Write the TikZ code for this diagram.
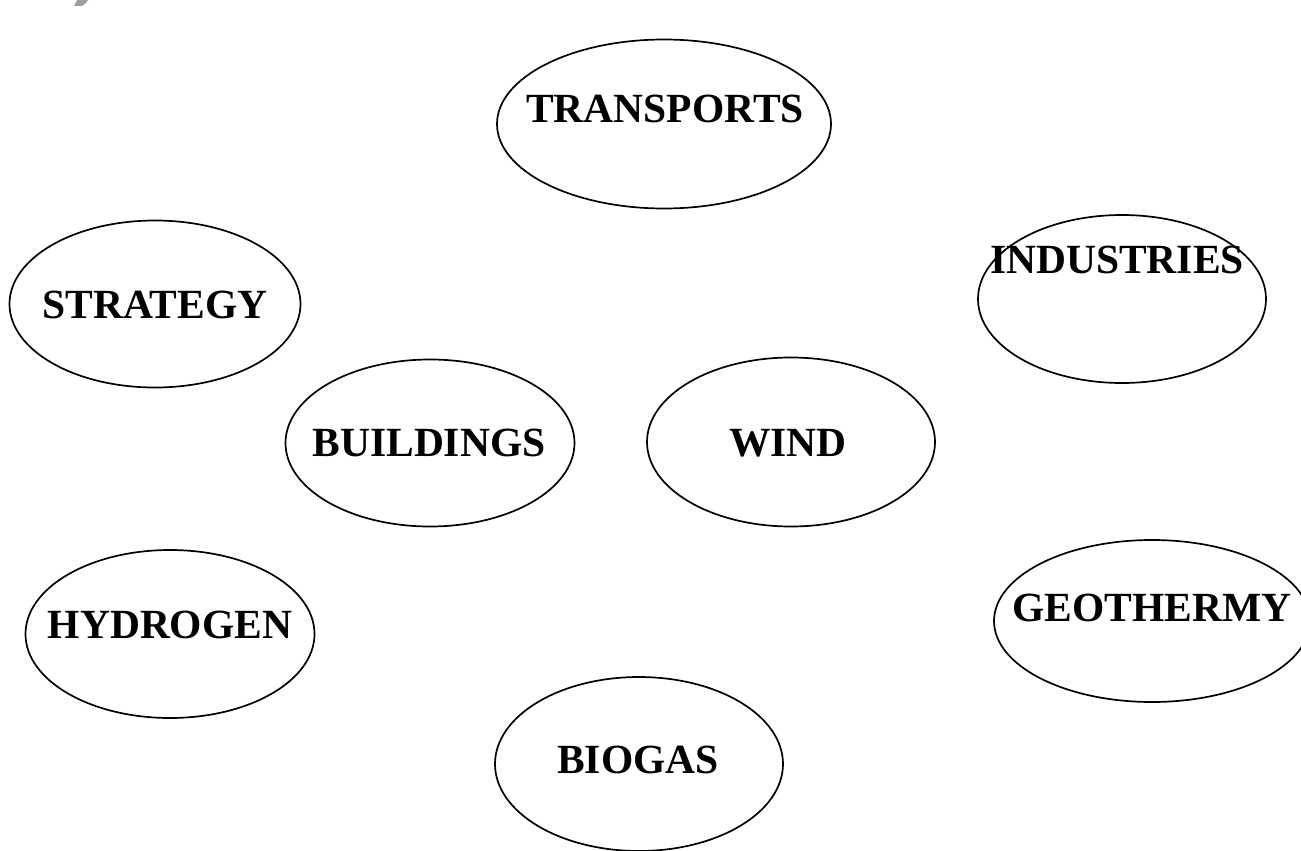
\documentclass[tikz,border=0pt]{standalone}
\usepackage{fontspec}
\setmainfont{Liberation Serif}
\usetikzlibrary{shapes.geometric}
\tikzset{
  bubble/.style={ellipse,draw,line width=1.7pt,inner sep=0pt},
  caption/.style={font=\fontsize{41.5}{41.5}\selectfont\bfseries,inner sep=0pt}
}
\begin{document}
\begin{tikzpicture}[x=1pt,y=-1pt]
  \useasboundingbox (0,0) rectangle (1301,851);
  \clip (0,0) rectangle (1301,851);
  % stray mark at the top
  \fill[gray!75] (74,6) -- (77,0) -- (88,0) -- (86,3) -- (82,6) -- cycle;
  % the bubbles
  \node[bubble,minimum width=334pt,minimum height=169pt] (transports) at (664,124) {};
  \node[bubble,minimum width=288pt,minimum height=168pt] (industries) at (1122,299) {};
  \node[bubble,minimum width=291pt,minimum height=167pt] (strategy) at (155,304) {};
  \node[bubble,minimum width=289pt,minimum height=167pt] (buildings) at (430,443) {};
  \node[bubble,minimum width=288pt,minimum height=169pt] (wind) at (791,442) {};
  \node[bubble,minimum width=289pt,minimum height=168pt] (hydrogen) at (170,634) {};
  \node[bubble,minimum width=316pt,minimum height=162pt] (geothermy) at (1152,621) {};
  \node[bubble,minimum width=288pt,minimum height=174pt] (biogas) at (639,764) {};
  % the labels
  \node[caption] (transportsText) at (665,109) {TRANSPORTS};
  \node[caption] (industriesText) at (1117,260) {INDUSTRIES};
  \node[caption] (strategyText) at (155,305) {STRATEGY};
  \node[caption] (buildingsText) at (429,443) {BUILDINGS};
  \node[caption] (windText) at (788,443) {WIND};
  \node[caption] (hydrogenText) at (170,625) {HYDROGEN};
  \node[caption] (geothermyText) at (1152,608) {GEOTHERMY};
  \node[caption] (biogasText) at (638,760) {BIOGAS};
\end{tikzpicture}
\end{document}
